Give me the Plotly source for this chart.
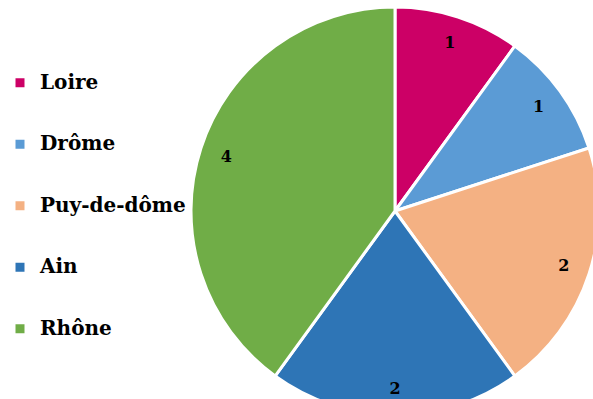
import plotly.graph_objects as go

# departements and counts
labels = ["Loire", "Drôme", "Puy-de-dôme", "Ain", "Rhône"]
values = [1, 1, 2, 2, 4]
colors = ["#cc0066", "#5b9bd5", "#f4b183", "#2e75b6", "#70ad47"]

FONT = "DejaVu Serif"
W, H = 600, 420
DOMAIN = dict(x=[190 / W, 1], y=[0, 1])

# blank lines around each name give the legend its loose vertical spacing
legend_names = ["<br><span style='font-size:20px;font-weight:bold'>%s</span><br>" % l
                for l in labels]

fig = go.Figure()

# the coloured pie
fig.add_trace(go.Pie(
    labels=legend_names,
    values=values,
    sort=False,
    direction="clockwise",
    rotation=0,
    marker=dict(colors=colors, line=dict(color="#ffffff", width=3)),
    textinfo="none",
    domain=DOMAIN,
    hoverinfo="value",
))

# transparent ring on top, only to put the values near the rim
fig.add_trace(go.Pie(
    labels=legend_names,
    values=values,
    sort=False,
    direction="clockwise",
    rotation=0,
    hole=0.74,
    marker=dict(colors=["rgba(0,0,0,0)"] * len(values), line=dict(width=0)),
    textinfo="value",
    textposition="inside",
    insidetextorientation="horizontal",
    textfont=dict(family=FONT, size=16, color="#000000", weight="bold"),
    domain=DOMAIN,
    showlegend=False,
    hoverinfo="skip",
))

fig.update_layout(
    width=W,
    height=H,
    margin=dict(l=0, r=0, t=7, b=5),
    paper_bgcolor="#ffffff",
    plot_bgcolor="#ffffff",
    showlegend=True,
    legend=dict(
        x=0,
        xanchor="left",
        y=0.512,
        yanchor="middle",
        font=dict(family=FONT, size=15, color="#000000"),
        bgcolor="rgba(0,0,0,0)",
    ),
)

fig.write_html(
    "out.html",
    config={"displayModeBar": False},
    post_script="document.body.style.margin='0';document.body.style.overflow='hidden';",
)
